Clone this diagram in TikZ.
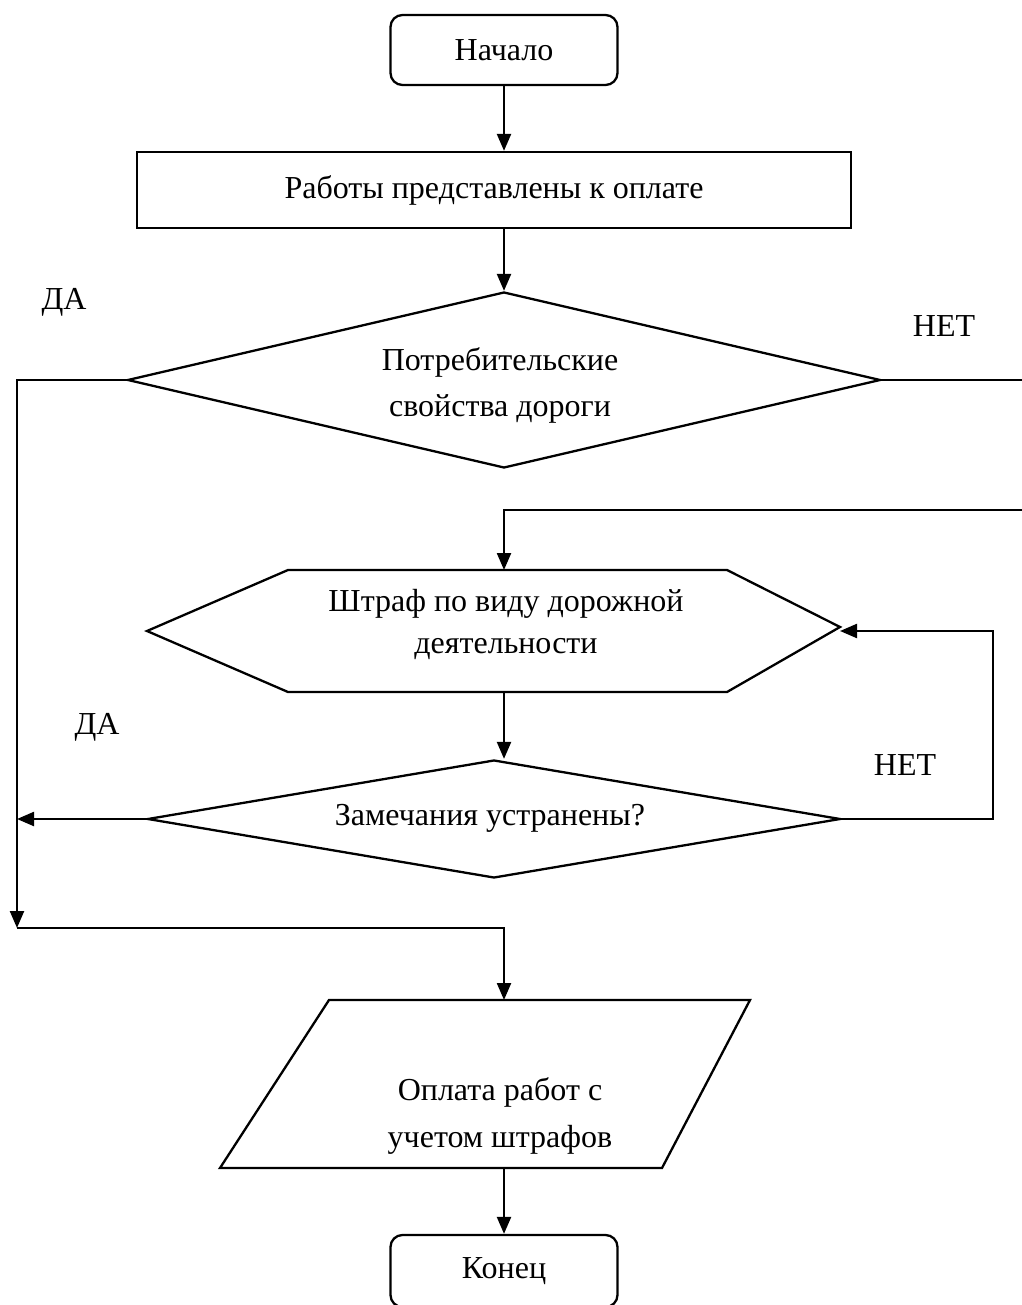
\documentclass[tikz,border=0pt]{standalone}
\usepackage{fontspec}
\setmainfont{Liberation Serif}
\usetikzlibrary{shapes.geometric,arrows.meta,calc}
\begin{document}
\begin{tikzpicture}[x=1pt,y=-1pt,
  line width=2.3pt,
  arr/.style={-{Triangle[length=17pt,width=14pt]}},
  txt/.style={font=\fontsize{32}{46}\selectfont, align=center, inner sep=0pt},
  term/.style={txt, draw, rounded corners=12pt, minimum width=227pt, minimum height=70pt},
  procbox/.style={txt, draw, minimum width=714pt, minimum height=76pt},
  decision/.style={txt, draw, diamond},
  frame/.style={inner sep=0pt, outer sep=0pt}]
\useasboundingbox (0,0) rectangle (1021,1305);

% nodes
\node[term] (start) at (504,50) {Начало};
\node[procbox] (work) at (494,190) {Работы представлены к оплате};
\node[decision, aspect=4.28, minimum width=753pt, minimum height=176pt] (d1) at (504,380) {};
\node[txt] (d1t) at (500,385) {Потребительские\\свойства дороги};

% hexagon
\node[frame, minimum width=693pt, minimum height=122pt] (hex) at (493.5,631) {};
\draw (hex.west) -- (288,570) -- (727,570) -- (840,627) -- (727,692) -- (288,692) -- cycle;
\node[txt, font=\fontsize{32}{42}\selectfont] (hext) at (506,624) {Штраф по виду дорожной\\деятельности};

\node[decision, aspect=5.87, minimum width=693pt, minimum height=118pt] (d2) at (494,819) {};
\node[txt] (d2t) at (490,818) {Замечания устранены?};

% parallelogram
\node[frame, minimum width=530pt, minimum height=168pt] (pay) at (485,1084) {};
\draw (329,1000) -- (750,1000) -- (662,1168) -- (220,1168) -- cycle;
\node[txt, font=\fontsize{32}{47}\selectfont] (payt) at (500,1116) {Оплата работ с\\учетом штрафов};

\node[term, minimum height=72pt] (end) at (504,1271) {};
\node[txt] (endt) at (504,1271) {Конец};

% labels
\node[txt] (yes1) at (64,302) {ДА};
\node[txt] (no1) at (944,326) {НЕТ};
\node[txt] (yes2) at (97,727) {ДА};
\node[txt] (no2) at (905,765) {НЕТ};

% helper coordinates
\coordinate (lx) at (17,928);
\coordinate (rt) at (1035,510);
\coordinate (hin) at (504,570);
\coordinate (loop) at (993,819);
\coordinate (payin) at (504,1000);
\coordinate (payout) at (504,1168);

% connectors
\draw[arr] (start.south) -- (start.south |- work.north);
\draw[arr] (start.south |- work.south) -- (d1.north);
\draw[arr] (d1.west) -| (lx);
\draw[arr] (lx) -| (payin);
\draw (d1.east) -| (rt);
\draw[arr] (rt) -| (hin);
\draw[arr] (hin |- hex.south) -- (hin |- d2.north);
\draw[arr] (d2.west) -- (lx |- d2.west);
\draw[arr] (d2.east) -- (loop) |- (hex.east);
\draw[arr] (payout) -- (payout |- end.north);
\end{tikzpicture}
\end{document}
